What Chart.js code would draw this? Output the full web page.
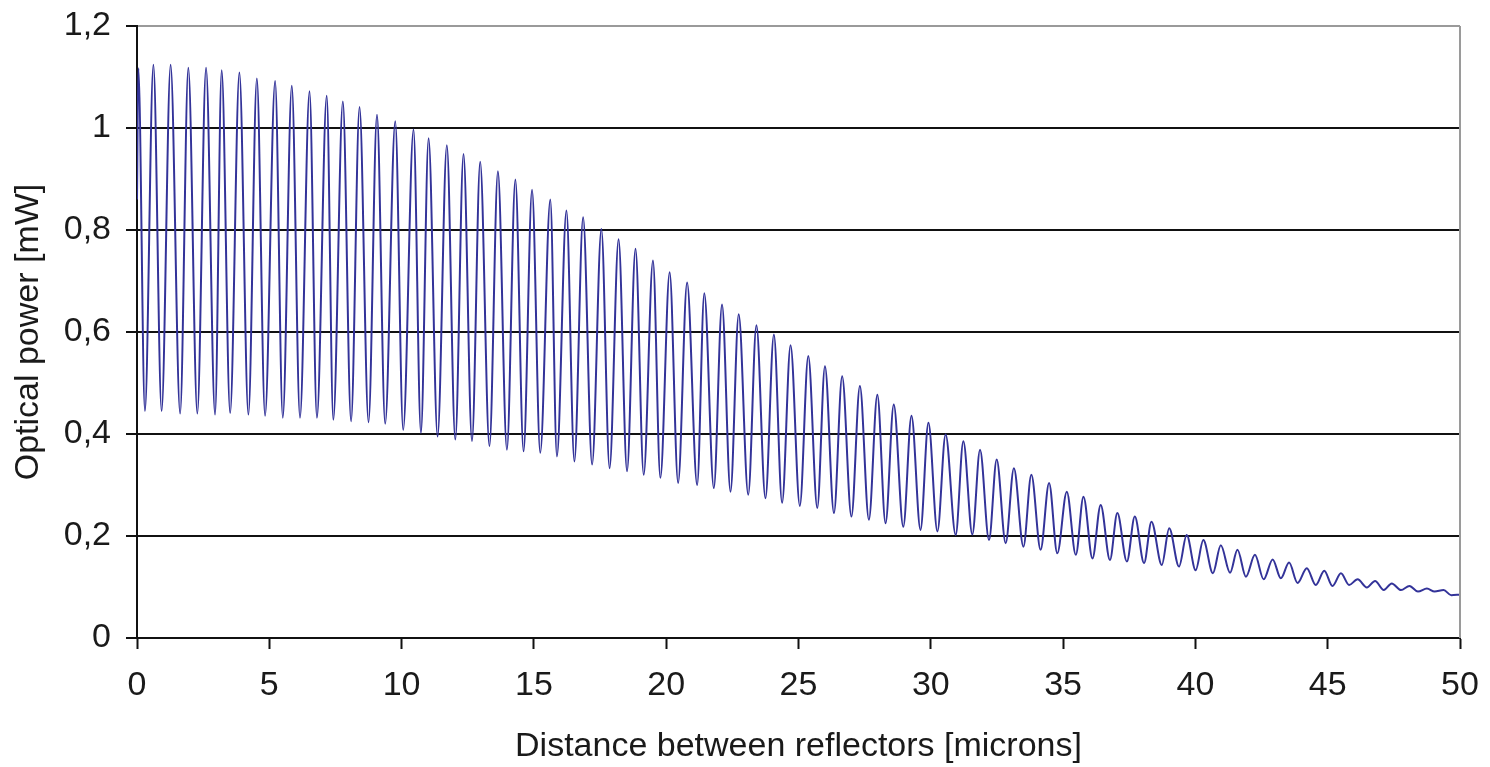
<!DOCTYPE html>
<html>
<head>
<meta charset="utf-8">
<script src="https://cdn.jsdelivr.net/npm/chart.js@4.4.0/dist/chart.umd.min.js"></script>
<style>
    html, body { margin: 0; padding: 0; background: #fff; }
    #powerChart { display: block; }
</style>
</head>
<body>
<canvas id="powerChart" width="1490" height="767"></canvas>
<script>
// maxima and minima of the interference curve
const peakDistance = [0.05, 0.62, 1.27, 1.94, 2.61, 3.20, 3.87, 4.53, 5.22, 5.85,
    6.52, 7.17, 7.78, 8.41, 9.07, 9.76, 10.45, 11.02, 11.71, 12.34,
    12.97, 13.64, 14.30, 14.93, 15.62, 16.23, 16.86, 17.55, 18.20, 18.84,
    19.50, 20.13, 20.79, 21.44, 22.11, 22.74, 23.41, 24.07, 24.70, 25.37,
    26.00, 26.65, 27.32, 27.98, 28.60, 29.27, 29.91, 30.56, 31.23, 31.86,
    32.49, 33.14, 33.80, 34.47, 35.14, 35.77, 36.42, 37.05, 37.71, 38.34,
    39.01, 39.67, 40.30, 40.96, 41.59, 42.25, 42.92, 43.54, 44.21, 44.87,
    45.50, 46.13, 46.79, 47.42, 48.09, 48.75, 49.38];
const peakPower = [1.117, 1.124, 1.124, 1.118, 1.118, 1.113, 1.109, 1.097, 1.092, 1.083,
    1.072, 1.063, 1.052, 1.041, 1.026, 1.013, 0.997, 0.980, 0.966, 0.949,
    0.934, 0.915, 0.899, 0.879, 0.860, 0.838, 0.825, 0.802, 0.782, 0.763,
    0.740, 0.717, 0.697, 0.676, 0.654, 0.635, 0.613, 0.595, 0.574, 0.553,
    0.533, 0.513, 0.494, 0.477, 0.458, 0.436, 0.422, 0.399, 0.386, 0.369,
    0.350, 0.333, 0.320, 0.304, 0.287, 0.277, 0.261, 0.245, 0.238, 0.228,
    0.215, 0.202, 0.192, 0.182, 0.173, 0.163, 0.154, 0.148, 0.137, 0.132,
    0.127, 0.115, 0.112, 0.107, 0.102, 0.097, 0.094];
const troughDistance = [0.30, 0.93, 1.63, 2.28, 2.95, 3.52, 4.21, 4.84, 5.51, 6.16,
    6.80, 7.42, 8.09, 8.75, 9.38, 10.06, 10.73, 11.36, 12.03, 12.66,
    13.32, 13.98, 14.61, 15.24, 15.87, 16.53, 17.20, 17.86, 18.52, 19.15,
    19.78, 20.45, 21.17, 21.80, 22.43, 23.10, 23.75, 24.38, 25.05, 25.71,
    26.34, 27.00, 27.66, 28.29, 28.96, 29.61, 30.25, 30.94, 31.57, 32.20,
    32.83, 33.50, 34.15, 34.78, 35.48, 36.11, 36.77, 37.41, 38.06, 38.73,
    39.38, 40.01, 40.66, 41.31, 41.91, 42.58, 43.23, 43.86, 44.55, 45.18,
    45.81, 46.48, 47.12, 47.77, 48.41, 49.04, 49.67];
const troughPower = [0.445, 0.445, 0.440, 0.440, 0.438, 0.441, 0.438, 0.436, 0.432, 0.432,
    0.432, 0.428, 0.425, 0.423, 0.420, 0.408, 0.402, 0.395, 0.389, 0.386,
    0.376, 0.369, 0.366, 0.363, 0.356, 0.346, 0.340, 0.333, 0.327, 0.320,
    0.314, 0.304, 0.300, 0.294, 0.287, 0.281, 0.274, 0.265, 0.259, 0.255,
    0.245, 0.238, 0.232, 0.225, 0.218, 0.212, 0.209, 0.202, 0.203, 0.192,
    0.186, 0.179, 0.173, 0.166, 0.163, 0.156, 0.153, 0.150, 0.147, 0.143,
    0.140, 0.133, 0.127, 0.128, 0.120, 0.115, 0.117, 0.108, 0.104, 0.102,
    0.104, 0.099, 0.094, 0.094, 0.091, 0.091, 0.084];
// first and last sample
const edgeDistance = [0, 50];
const edgePower = [0.86, 0.085];

const FONT = "'Liberation Sans', Arial, sans-serif";
const TEXT = "#1a1a1a";

function buildSeries() {
    const pts = [];
    edgeDistance.forEach((x, i) => pts.push({ x, y: edgePower[i] }));
    peakDistance.forEach((x, i) => pts.push({ x, y: peakPower[i] }));
    troughDistance.forEach((x, i) => pts.push({ x, y: troughPower[i] }));
    return pts.sort((a, b) => a.x - b.x);
}

function commaLabel(v) {
    return String(Math.round(v * 10) / 10).replace(".", ",");
}

// grey frame on the right side of the plot area
const frame = {
    id: "frame",
    afterDraw(chart) {
        const { ctx, chartArea } = chart;
        ctx.save();
        ctx.strokeStyle = "#9a9a9a";
        ctx.lineWidth = 2;
        ctx.beginPath();
        ctx.moveTo(chartArea.right, chartArea.top);
        ctx.lineTo(chartArea.right, chartArea.bottom);
        ctx.stroke();
        ctx.restore();
    }
};

const chart = new Chart(document.getElementById("powerChart"), {
    type: "line",
    data: {
        datasets: [{
            data: buildSeries(),
            borderColor: "#333399",
            borderWidth: 2,
            pointRadius: 0,
            fill: false,
            cubicInterpolationMode: "monotone"
        }]
    },
    options: {
        responsive: false,
        animation: false,
        devicePixelRatio: 1,
        layout: { padding: { left: 0, right: 30, top: 26, bottom: 0 } },
        plugins: { legend: { display: false }, tooltip: { enabled: false } },
        scales: {
            x: {
                type: "linear",
                min: 0,
                max: 50,
                afterFit: s => {
                    s.height = 129;
                    s.paddingLeft = 0;
                    s.paddingRight = 0;
                },
                ticks: {
                    stepSize: 5,
                    color: TEXT,
                    font: { family: FONT, size: 34 },
                    padding: 16,
                    maxRotation: 0
                },
                grid: {
                    drawOnChartArea: false,
                    tickLength: 11,
                    tickColor: "#111",
                    tickWidth: 2
                },
                border: { color: "#111", width: 2 },
                title: {
                    display: true,
                    text: "Distance between reflectors [microns]",
                    color: TEXT,
                    font: { family: FONT, size: 34 },
                    padding: { top: 0, bottom: 0 }
                }
            },
            y: {
                min: 0,
                max: 1.2,
                afterFit: s => {
                    s.width = 137;
                    s.paddingTop = 0;
                    s.paddingBottom = 0;
                },
                ticks: {
                    stepSize: 0.2,
                    color: TEXT,
                    font: { family: FONT, size: 34 },
                    padding: 15,
                    callback: v => commaLabel(v)
                },
                grid: {
                    color: c => (c.tick && c.tick.value > 1.19 ? "#9a9a9a" : "#111"),
                    lineWidth: 2,
                    tickLength: 11,
                    tickColor: "#111",
                    tickWidth: 2
                },
                border: { color: "#111", width: 2 },
                title: {
                    display: true,
                    text: "Optical power [mW]",
                    color: TEXT,
                    font: { family: FONT, size: 34 },
                    padding: { top: 8, bottom: 8 }
                }
            }
        }
    },
    plugins: [frame]
});
</script>
</body>
</html>
